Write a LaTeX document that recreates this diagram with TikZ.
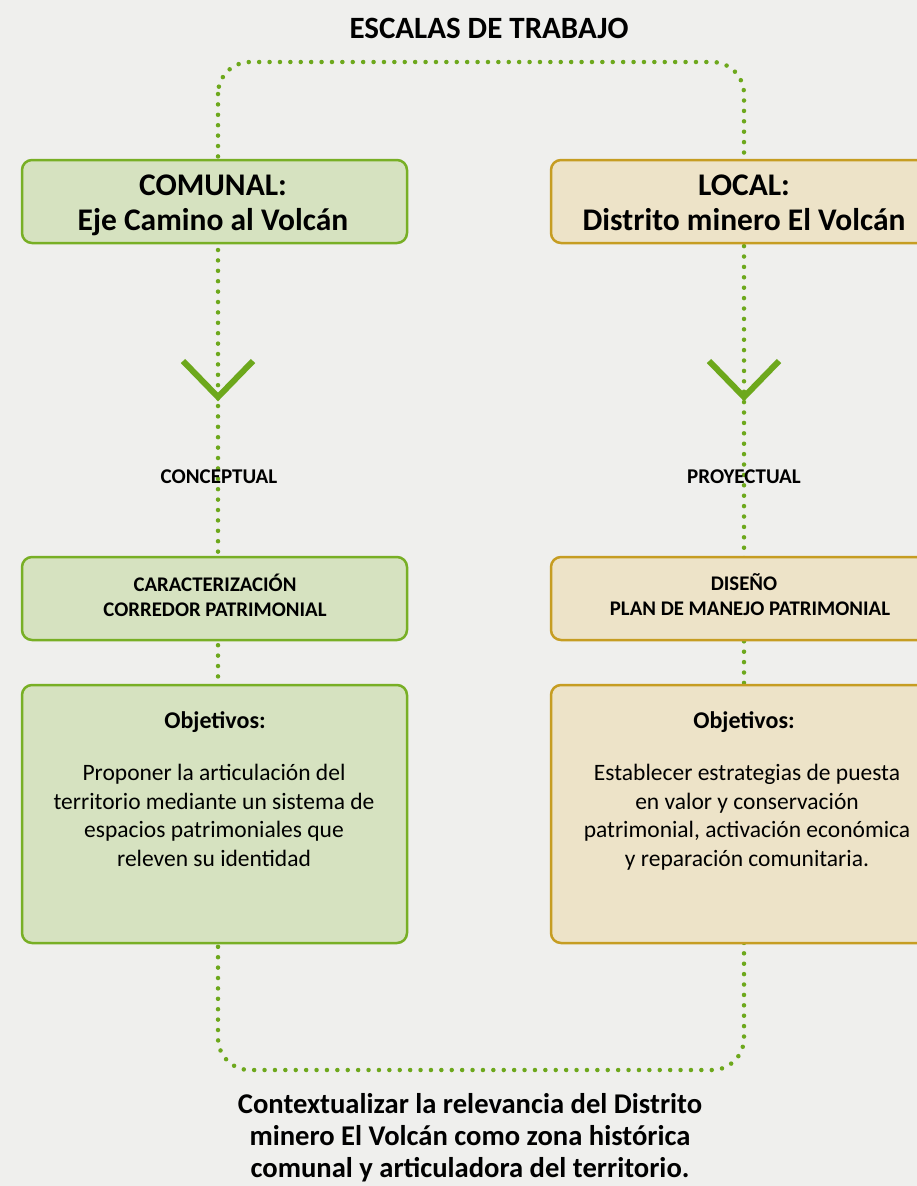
\documentclass[tikz,border=0pt]{standalone}
\usepackage{fontspec}
\setmainfont{Carlito}
\definecolor{bgc}{HTML}{EFEFED}
\definecolor{grnline}{HTML}{78AF25}
\definecolor{grnfill}{HTML}{D6E2C0}
\definecolor{gldline}{HTML}{C69D22}
\definecolor{gldfill}{HTML}{EDE3C8}
\definecolor{dotc}{HTML}{6DA81C}
\begin{document}
\begin{tikzpicture}[x=1pt,y=-1pt,
  dotline/.style={draw=dotc,line width=4.5pt,line cap=round,dash pattern=on 0pt off 10.4pt},
  chev/.style={draw=dotc,line width=6pt,line cap=butt,line join=miter},
  greenbox/.style={draw=grnline,fill=grnfill,line width=2.5pt,rounded corners=10pt,minimum width=385pt,inner sep=0pt},
  goldbox/.style={draw=gldline,fill=gldfill,line width=2.5pt,rounded corners=10pt,minimum width=385pt,inner sep=0pt},
  hdr/.style={font=\fontsize{31.5}{35}\selectfont\bfseries,align=center,inner sep=0pt},
  sub/.style={font=\fontsize{20.8}{25}\selectfont\bfseries,align=center,inner sep=0pt},
  lbl/.style={font=\fontsize{21}{24}\selectfont\bfseries,inner sep=0pt},
  body/.style={font=\fontsize{23.5}{28.5}\selectfont,align=center,inner sep=0pt},
  objt/.style={font=\fontsize{24}{28}\selectfont\bfseries,inner sep=0pt}
]
\path[use as bounding box] (0,0) rectangle (917,1186);
\clip (0,0) rectangle (917,1186);
\fill[bgc] (0,0) rectangle (917,1186);

% title
\node[font=\fontsize{31}{34}\selectfont\bfseries,inner sep=0pt] (title) at (489,28) {ESCALAS DE TRABAJO};

% dotted loop
\coordinate (lt) at (218,62);
\coordinate (rb) at (744,1070);
\draw[dotline,rounded corners=32pt] (lt) rectangle (rb);

% chevrons on the connectors
\coordinate (vl) at (218,397);
\coordinate (vr) at (744,397);
\draw[chev] ([shift={(-35,-36)}]vl) -- (vl) -- ([shift={(35,-36)}]vl);
\draw[chev] ([shift={(-35,-36)}]vr) -- (vr) -- ([shift={(35,-36)}]vr);

% labels on the connectors
\node[lbl] (concep) at (219,477) {CONCEPTUAL};
\node[lbl] (proyec) at (744,477) {PROYECTUAL};

% top boxes
\node[greenbox,minimum height=83pt] (comunal) at (214.5,201.5) {};
\node[goldbox,minimum height=83pt] (local) at (743.5,201.5) {};
\node[hdr] (comunalt) at (213,205) {COMUNAL:\\Eje Camino al Volcán};
\node[hdr] (localt) at (744,203) {LOCAL:\\Distrito minero El Volcán};

% middle boxes
\node[greenbox,minimum height=83pt] (carac) at (214.5,598.5) {};
\node[goldbox,minimum height=83pt] (dise) at (743.5,598.5) {};
\node[sub] (caract) at (215,595) {CARACTERIZACIÓN\\CORREDOR PATRIMONIAL};
\node[sub] (diset) at (750,595) {DISEÑO\kern12pt\\PLAN DE MANEJO PATRIMONIAL};

% objective boxes
\node[greenbox,minimum height=258pt] (objl) at (214.5,814) {};
\node[goldbox,minimum height=258pt] (objr) at (743.5,814) {};
\node[objt] (objlt) at (215,722) {Objetivos:};
\node[objt] (objrt) at (744,722) {Objetivos:};
\node[body,anchor=north] (objlb) at (214,764) {Proponer la articulación del\\territorio mediante un sistema de\\espacios patrimoniales que\\releven su identidad};
\node[body,anchor=north] (objrb) at (747,764) {Establecer estrategias de puesta\\en valor y conservación\\patrimonial, activación económica\\y reparación comunitaria.};

% bottom text
\node[font=\fontsize{28.6}{32}\selectfont\bfseries,align=center,inner sep=0pt] (concl) at (470,1138) {Contextualizar la relevancia del Distrito\\minero El Volcán como zona histórica\\comunal y articuladora del territorio.};
\end{tikzpicture}
\end{document}
